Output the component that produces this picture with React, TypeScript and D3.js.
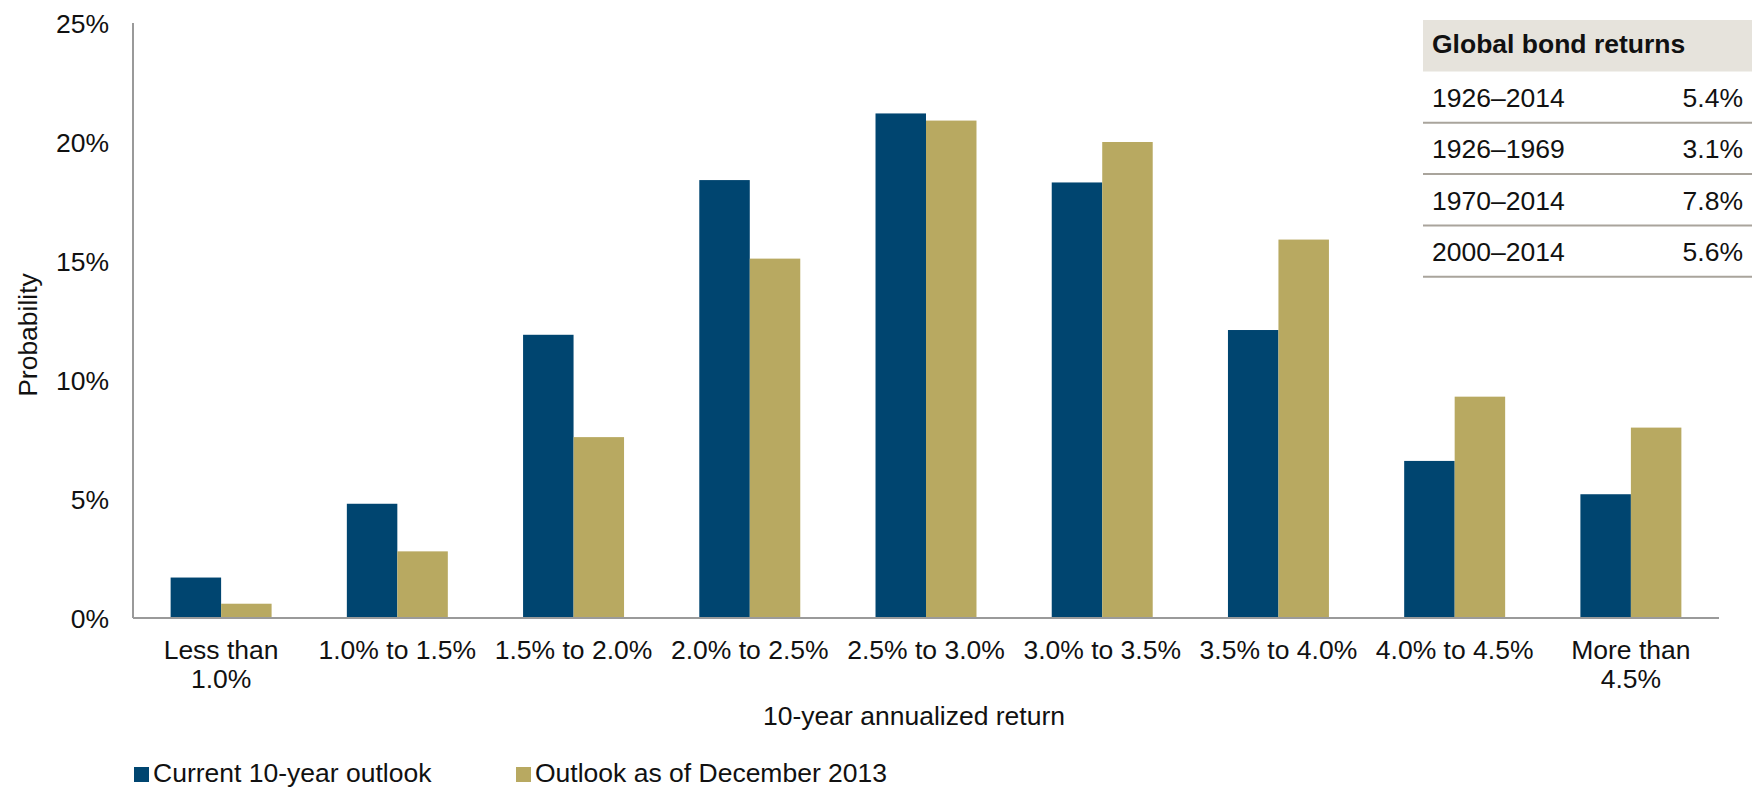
import React from "react";
import * as d3 from "d3";

const categories: string[][] = [
  ["Less than", "1.0%"],
  ["1.0% to 1.5%"],
  ["1.5% to 2.0%"],
  ["2.0% to 2.5%"],
  ["2.5% to 3.0%"],
  ["3.0% to 3.5%"],
  ["3.5% to 4.0%"],
  ["4.0% to 4.5%"],
  ["More than", "4.5%"],
];
const currentOutlook = [1.7, 4.8, 11.9, 18.4, 21.2, 18.3, 12.1, 6.6, 5.2];
const dec2013Outlook = [0.6, 2.8, 7.6, 15.1, 20.9, 20.0, 15.9, 9.3, 8.0];
const seriesNames = ["Current 10-year outlook", "Outlook as of December 2013"];
const yTicks = [0, 5, 10, 15, 20, 25];
const tablePeriods = ["1926–2014", "1926–1969", "1970–2014", "2000–2014"];
const tableValues = ["5.4%", "3.1%", "7.8%", "5.6%"];
const tableTitle = "Global bond returns";

const W = 1752;
const H = 789;
const colors = ["#004570", "#B8A961"];
const FONT = "'Liberation Sans', Arial, Helvetica, sans-serif";
const FS = 26.5;

export default function App() {
  const left = 133;
  const right = 1719;
  const top = 23;
  const bottom = 618;

  const keys = categories.map((c) => c.join(" "));
  const x0 = d3
    .scaleBand<string>()
    .domain(keys)
    .range([left, right])
    .paddingInner(0.427)
    .paddingOuter(0.2135);
  const x1 = d3
    .scaleBand<number>()
    .domain([0, 1])
    .range([0, x0.bandwidth()]);
  const y = d3.scaleLinear().domain([0, 25]).range([bottom, top]);

  const series = [currentOutlook, dec2013Outlook];

  const tLeft = 1423;
  const rowY = d3.scaleLinear().domain([0, 1]).range([71.5, 122.8]);

  return (
    <svg
      width={W}
      height={H}
      style={{ position: "absolute", left: 0, top: 0, background: "#fff" }}
      fontFamily={FONT}
    >
      {/* bars */}
      {series.map((vals, si) =>
        vals.map((v, i) => (
          <rect
            key={`${si}-${i}`}
            x={(x0(keys[i]) as number) + (x1(si) as number)}
            y={y(v)}
            width={x1.bandwidth()}
            height={y(0) - y(v)}
            fill={colors[si]}
          />
        ))
      )}
      {/* axes */}
      <line x1={left} x2={left} y1={top} y2={bottom} stroke="#9a9a9a" strokeWidth={2} />
      <line x1={left} x2={right} y1={bottom} y2={bottom} stroke="#9a9a9a" strokeWidth={2} />
      {yTicks.map((t) => (
        <text
          key={t}
          x={109}
          y={y(t)}
          dy="0.36em"
          textAnchor="end"
          fontSize={FS}
          fill="#111"
        >
          {t}%
        </text>
      ))}
      {categories.map((lines, i) => (
        <text
          key={keys[i]}
          x={(x0(keys[i]) as number) + x0.bandwidth() / 2}
          y={659}
          textAnchor="middle"
          fontSize={FS}
          fill="#111"
        >
          {lines.map((l, j) => (
            <tspan key={j} x={(x0(keys[i]) as number) + x0.bandwidth() / 2} dy={j === 0 ? 0 : 29}>
              {l}
            </tspan>
          ))}
        </text>
      ))}
      <text x={(left + right) / 2 - 12} y={725} textAnchor="middle" fontSize={FS} fill="#111">
        10-year annualized return
      </text>
      <text
        transform={`translate(37, 335) rotate(-90)`}
        textAnchor="middle"
        fontSize={FS}
        fill="#111"
      >
        Probability
      </text>
      {/* legend */}
      {seriesNames.map((n, i) => {
        const lx = i === 0 ? 134 : 516;
        return (
          <g key={n}>
            <rect x={lx} y={767} width={15} height={15} fill={colors[i]} />
            <text x={lx + 19} y={782} fontSize={FS} fill="#111">
              {n}
            </text>
          </g>
        );
      })}
      {/* table */}
      <rect x={tLeft} y={20} width={W - tLeft} height={51.5} fill="#E6E3DC" />
      <text x={1432} y={53} fontSize={FS} fontWeight="bold" fill="#111">
        {tableTitle}
      </text>
      {tablePeriods.map((p, i) => (
        <g key={p}>
          <text x={1432} y={rowY(i) + 35.5} fontSize={FS} fill="#111">
            {p}
          </text>
          <text x={1743} y={rowY(i) + 35.5} fontSize={FS} textAnchor="end" fill="#111">
            {tableValues[i]}
          </text>
          <line
            x1={tLeft}
            x2={W}
            y1={rowY(i + 1)}
            y2={rowY(i + 1)}
            stroke="#A9A49C"
            strokeWidth={2}
          />
        </g>
      ))}
    </svg>
  );
}
